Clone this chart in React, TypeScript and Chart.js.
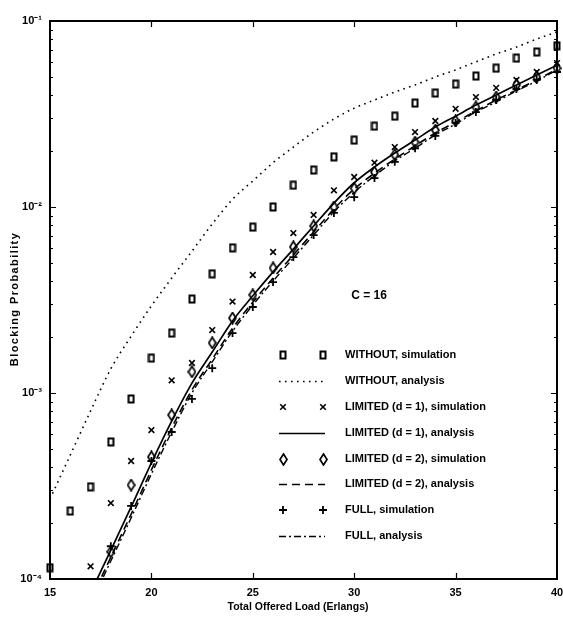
import React, { useEffect, useRef } from 'react';
import { Chart, registerables } from 'chart.js';

Chart.register(...registerables);

// ---------- data ----------
const loadsFrom15 = [15, 16, 17, 18, 19, 20, 21, 22, 23, 24, 25, 26, 27, 28, 29, 30, 31, 32, 33, 34, 35, 36, 37, 38, 39, 40];
const loadsFrom17 = [17, 18, 19, 20, 21, 22, 23, 24, 25, 26, 27, 28, 29, 30, 31, 32, 33, 34, 35, 36, 37, 38, 39, 40];
const loadsFrom18 = [18, 19, 20, 21, 22, 23, 24, 25, 26, 27, 28, 29, 30, 31, 32, 33, 34, 35, 36, 37, 38, 39, 40];

const withoutSim = [1.15e-4, 2.32e-4, 3.13e-4, 5.46e-4, 9.29e-4, 1.54e-3, 2.1e-3, 3.2e-3, 4.37e-3, 6.03e-3, 7.8e-3, 1.0e-2, 1.31e-2, 1.58e-2, 1.86e-2, 2.29e-2, 2.72e-2, 3.08e-2, 3.62e-2, 4.1e-2, 4.58e-2, 5.06e-2, 5.58e-2, 6.32e-2, 6.81e-2, 7.35e-2];
const withoutAna = [2.69e-4, 4.64e-4, 8.0e-4, 1.35e-3, 2.02e-3, 2.94e-3, 4.15e-3, 5.79e-3, 8.1e-3, 1.1e-2, 1.38e-2, 1.73e-2, 2.1e-2, 2.53e-2, 2.97e-2, 3.4e-2, 3.76e-2, 4.15e-2, 4.53e-2, 5.0e-2, 5.46e-2, 6.03e-2, 6.65e-2, 7.24e-2, 8.0e-2, 8.73e-2];
const limited1Sim = [1.17e-4, 2.56e-4, 4.31e-4, 6.32e-4, 1.17e-3, 1.45e-3, 2.18e-3, 3.1e-3, 4.31e-3, 5.73e-3, 7.24e-3, 9.06e-3, 1.23e-2, 1.45e-2, 1.73e-2, 2.1e-2, 2.53e-2, 2.9e-2, 3.37e-2, 3.9e-2, 4.37e-2, 4.82e-2, 5.32e-2, 5.94e-2];
const limited1Ana = [8.41e-5, 1.43e-4, 2.44e-4, 4.21e-4, 7.06e-4, 1.13e-3, 1.66e-3, 2.44e-3, 3.33e-3, 4.48e-3, 5.94e-3, 7.91e-3, 1.05e-2, 1.35e-2, 1.64e-2, 1.95e-2, 2.29e-2, 2.69e-2, 3.08e-2, 3.53e-2, 4.0e-2, 4.53e-2, 5.13e-2, 5.79e-2];
const limited2Sim = [1.4e-4, 3.2e-4, 4.53e-4, 7.62e-4, 1.3e-3, 1.86e-3, 2.53e-3, 3.37e-3, 4.7e-3, 6.1e-3, 7.91e-3, 1.0e-2, 1.26e-2, 1.54e-2, 1.91e-2, 2.23e-2, 2.59e-2, 2.9e-2, 3.45e-2, 3.9e-2, 4.53e-2, 5.0e-2, 5.58e-2];
const limited2Ana = [7.7e-5, 1.31e-4, 2.23e-4, 3.86e-4, 6.49e-4, 1.04e-3, 1.52e-3, 2.23e-3, 3.08e-3, 4.15e-3, 5.52e-3, 7.34e-3, 9.75e-3, 1.25e-2, 1.52e-2, 1.81e-2, 2.13e-2, 2.5e-2, 2.86e-2, 3.28e-2, 3.76e-2, 4.26e-2, 4.82e-2, 5.52e-2];
const fullSim = [1.5e-4, 2.47e-4, 4.31e-4, 6.17e-4, 9.29e-4, 1.36e-3, 2.1e-3, 2.9e-3, 3.95e-3, 5.38e-3, 7.06e-3, 9.29e-3, 1.13e-2, 1.43e-2, 1.75e-2, 2.07e-2, 2.41e-2, 2.83e-2, 3.24e-2, 3.76e-2, 4.31e-2, 4.82e-2, 5.32e-2];
const fullAna = [7.34e-5, 1.25e-4, 2.13e-4, 3.67e-4, 6.17e-4, 1.0e-3, 1.47e-3, 2.15e-3, 2.97e-3, 4.0e-3, 5.32e-3, 7.07e-3, 9.4e-3, 1.2e-2, 1.47e-2, 1.77e-2, 2.07e-2, 2.44e-2, 2.79e-2, 3.24e-2, 3.67e-2, 4.21e-2, 4.75e-2, 5.46e-2];

const xTickValues = [15, 20, 25, 30, 35, 40];
const yDecades = [1e-4, 1e-3, 1e-2, 1e-1];

const seriesLabels = [
  'WITHOUT, simulation',
  'WITHOUT, analysis',
  'LIMITED (d = 1), simulation',
  'LIMITED (d = 1), analysis',
  'LIMITED (d = 2), simulation',
  'LIMITED (d = 2), analysis',
  'FULL, simulation',
  'FULL, analysis',
];
const capacityLabel = 'C = 16';
const xTitle = 'Total Offered Load (Erlangs)';
const yTitle = 'Blocking Probability';

// ---------- helpers ----------
const FONT = '"Liberation Sans", Arial, Helvetica, sans-serif';
const SUP: Record<string, string> = { '-': '\u207B', '0': '\u2070', '1': '\u00B9', '2': '\u00B2', '3': '\u00B3', '4': '\u2074', '5': '\u2075' };
const sup = (n: number) => String(n).split('').map((c) => SUP[c] || c).join('');
const pts = (xs: number[], ys: number[]) => xs.map((x, i) => ({ x, y: ys[i] }));

function makeSquare() {
  const c = document.createElement('canvas');
  c.width = 8; c.height = 10;
  const g = c.getContext('2d')!;
  g.strokeStyle = '#000'; g.lineWidth = 2;
  g.strokeRect(1.5, 1.5, 5, 7);
  return c;
}
function makeDiamond() {
  const c = document.createElement('canvas');
  c.width = 9; c.height = 13;
  const g = c.getContext('2d')!;
  g.strokeStyle = '#000'; g.lineWidth = 1.7;
  g.beginPath();
  g.moveTo(4.5, 1); g.lineTo(8, 6.5); g.lineTo(4.5, 12); g.lineTo(1, 6.5); g.closePath();
  g.stroke();
  return c;
}

function drawLegendMarker(ctx: CanvasRenderingContext2D, style: any, x: number, y: number) {
  if (style && typeof style === 'object') {
    ctx.drawImage(style, Math.round(x - style.width / 2), Math.round(y - style.height / 2));
    return;
  }
  ctx.beginPath();
  if (style === 'crossRot') {
    const r = 2.8;
    ctx.lineWidth = 1.6;
    ctx.moveTo(x - r, y - r); ctx.lineTo(x + r, y + r);
    ctx.moveTo(x - r, y + r); ctx.lineTo(x + r, y - r);
  } else if (style === 'cross') {
    const r = 4;
    ctx.lineWidth = 1.8;
    ctx.moveTo(x - r, y); ctx.lineTo(x + r, y);
    ctx.moveTo(x, y - r); ctx.lineTo(x, y + r);
  }
  ctx.stroke();
}

const decorPlugin = {
  id: 'decor',
  afterDraw(chart: any) {
    const { ctx, chartArea: a, scales } = chart;
    const xs = scales.x;
    const ys = scales.y;
    ctx.save();
    ctx.strokeStyle = '#000';
    ctx.fillStyle = '#000';
    ctx.setLineDash([]);

    // inward ticks
    ctx.lineWidth = 1.2;
    ctx.beginPath();
    for (const v of xTickValues) {
      if (v === xs.min || v === xs.max) continue;
      const px = Math.round(xs.getPixelForValue(v)) + 0.5;
      ctx.moveTo(px, a.bottom); ctx.lineTo(px, a.bottom - 6);
      ctx.moveTo(px, a.top); ctx.lineTo(px, a.top + 6);
    }
    for (let d = 0; d < yDecades.length - 1; d++) {
      for (let m = 1; m <= 9; m++) {
        if (d === 0 && m === 1) continue;
        const py = Math.round(ys.getPixelForValue(yDecades[d] * m)) + 0.5;
        const len = m === 1 ? 6 : 3;
        ctx.moveTo(a.left, py); ctx.lineTo(a.left + len, py);
        ctx.moveTo(a.right, py); ctx.lineTo(a.right - len, py);
      }
    }
    ctx.stroke();

    // frame
    ctx.lineWidth = 2;
    ctx.strokeRect(a.left, a.top, a.right - a.left, a.bottom - a.top);

    // axis titles
    ctx.font = `bold 10.5px ${FONT}`;
    ctx.textAlign = 'center';
    ctx.textBaseline = 'middle';
    ctx.fillText(xTitle, 298, 607);
    ctx.save();
    ctx.translate(15, 299);
    ctx.rotate(-Math.PI / 2);
    ctx.font = `bold 11px ${FONT}`;
    (ctx as any).letterSpacing = '1.4px';
    ctx.fillText(yTitle, 0, 0);
    ctx.restore();

    // C = 16
    ctx.font = `bold 12px ${FONT}`;
    ctx.textAlign = 'center';
    ctx.fillText(capacityLabel, 369, 296);

    // legend
    const rowY = [355, 381, 407, 433, 459, 484, 510, 536];
    ctx.font = `bold 11px ${FONT}`;
    ctx.textAlign = 'left';
    chart.data.datasets.forEach((ds: any, i: number) => {
      const y = rowY[i];
      if (ds.showLine) {
        ctx.save();
        ctx.lineWidth = ds.borderWidth;
        ctx.setLineDash(ds.borderDash || []);
        ctx.beginPath();
        ctx.moveTo(279, y + 0.5); ctx.lineTo(325, y + 0.5);
        ctx.stroke();
        ctx.restore();
      } else {
        drawLegendMarker(ctx, ds.pointStyle, 283, y);
        drawLegendMarker(ctx, ds.pointStyle, 323, y);
      }
      ctx.fillText(ds.label, 345, y);
    });
    ctx.restore();
  },
};

export default function App() {
  const ref = useRef<HTMLCanvasElement | null>(null);

  useEffect(() => {
    if (!ref.current) return;
    const square = makeSquare();
    const diamond = makeDiamond();
    const marker = (label: string, data: any[], style: any, radius: number, bw: number) => ({
      label, data, showLine: false, pointStyle: style, pointRadius: radius, pointHoverRadius: radius,
      borderColor: '#000', backgroundColor: 'rgba(0,0,0,0)', pointBorderWidth: bw, borderWidth: bw, clip: false,
    });
    const line = (label: string, data: any[], dash: number[], bw: number) => ({
      label, data, showLine: true, pointRadius: 0, borderColor: '#000', backgroundColor: '#000',
      borderWidth: bw, borderDash: dash, fill: false, cubicInterpolationMode: 'monotone',
    });

    const chart = new Chart(ref.current, {
      type: 'scatter',
      data: {
        datasets: [
          marker(seriesLabels[0], pts(loadsFrom15, withoutSim), square, 4, 2),
          line(seriesLabels[1], pts(loadsFrom15, withoutAna), [1.6, 4.4], 1.6),
          marker(seriesLabels[2], pts(loadsFrom17, limited1Sim), 'crossRot', 4, 1.6),
          line(seriesLabels[3], pts(loadsFrom17, limited1Ana), [], 1.7),
          marker(seriesLabels[4], pts(loadsFrom18, limited2Sim), diamond, 4, 1.7),
          line(seriesLabels[5], pts(loadsFrom17, limited2Ana), [8, 5], 1.6),
          marker(seriesLabels[6], pts(loadsFrom18, fullSim), 'cross', 4, 1.8),
          line(seriesLabels[7], pts(loadsFrom17, fullAna), [7, 3, 2, 3], 1.4),
        ] as any,
      },
      options: {
        animation: false,
        responsive: false,
        devicePixelRatio: 1,
        layout: { padding: { left: 0, right: 6, top: 21, bottom: 0 } },
        plugins: { legend: { display: false }, tooltip: { enabled: false }, title: { display: false } },
        scales: {
          x: {
            type: 'linear',
            min: 15,
            max: 40,
            grid: { display: false, drawTicks: false },
            border: { display: false },
            ticks: {
              stepSize: 5,
              autoSkip: false,
              maxRotation: 0,
              padding: 7,
              color: '#000',
              font: { family: FONT, size: 11, weight: 'bold' },
            },
            afterFit: (s: any) => { s.height = 39; s.paddingLeft = 0; s.paddingRight = 0; },
          },
          y: {
            type: 'logarithmic',
            min: 1e-4,
            max: 1e-1,
            grid: { display: false, drawTicks: false },
            border: { display: false },
            ticks: {
              autoSkip: false,
              padding: 8,
              color: '#000',
              font: { family: FONT, size: 11, weight: 'bold' },
              callback: (v: any) => {
                const e = Math.log10(Number(v));
                const r = Math.round(e);
                return Math.abs(e - r) < 1e-6 ? '10' + sup(r) : '';
              },
            },
            afterFit: (s: any) => { s.width = 50; s.paddingTop = 0; s.paddingBottom = 0; },
          },
        },
      } as any,
      plugins: [decorPlugin],
    });
    return () => chart.destroy();
  }, []);

  return (
    <div style={{ position: 'absolute', left: 0, top: 0, width: 563, height: 618, background: '#fff' }}>
      <canvas ref={ref} width={563} height={618} />
    </div>
  );
}
